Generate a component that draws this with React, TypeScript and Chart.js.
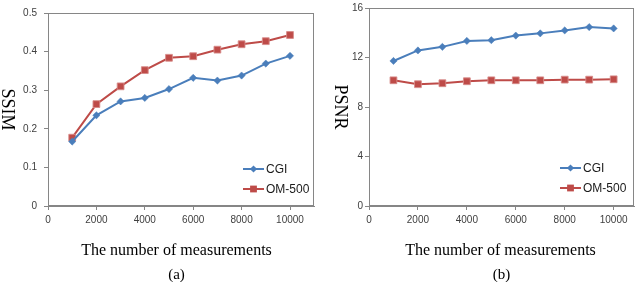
import React, { useEffect, useRef } from 'react';
import { Chart, registerables } from 'chart.js';

Chart.register(...registerables);

// ---- data ----
const measurements = [1000, 2000, 3000, 4000, 5000, 6000, 7000, 8000, 9000, 10000];
const ssimCGI = [0.167, 0.235, 0.271, 0.28, 0.303, 0.332, 0.325, 0.338, 0.369, 0.389];
const ssimOM500 = [0.177, 0.264, 0.31, 0.352, 0.384, 0.388, 0.405, 0.419, 0.427, 0.443];
const psnrCGI = [11.72, 12.57, 12.86, 13.34, 13.4, 13.77, 13.95, 14.19, 14.46, 14.35];
const psnrOM500 = [10.16, 9.84, 9.92, 10.08, 10.16, 10.16, 10.16, 10.21, 10.21, 10.24];
const xTickValues = [0, 2000, 4000, 6000, 8000, 10000];
const ssimTickValues = [0, 0.1, 0.2, 0.3, 0.4, 0.5];
const psnrTickValues = [0, 4, 8, 12, 16];
const seriesNames = ['CGI', 'OM-500'];
const xAxisTitle = 'The number of measurements';

const BLUE = '#4A7EBB';
const RED = '#BE4B48';
const AXIS = '#868686';
const TICK_TEXT = '#404040';

const panelTextPlugin = {
  id: 'panelText',
  beforeDatasetsDraw(chart: any) {
    const { ctx, chartArea: a } = chart;
    ctx.save();
    ctx.strokeStyle = AXIS;
    ctx.lineWidth = 1;
    ctx.strokeRect(Math.round(a.left) + 0.5, Math.round(a.top) + 0.5, Math.round(a.right - a.left) - 1, Math.round(a.bottom - a.top) - 1);
    ctx.restore();
  },
  afterDraw(chart: any, _args: any, opts: any) {
    const { ctx, chartArea: a } = chart;
    ctx.save();
    ctx.fillStyle = '#000';
    // y title rotated clockwise
    ctx.save();
    ctx.translate(opts.yTitleX, (a.top + a.bottom) / 2);
    ctx.rotate(Math.PI / 2);
    ctx.font = '18px "Liberation Serif"';
    ctx.textAlign = 'center';
    ctx.textBaseline = 'middle';
    ctx.fillText(opts.yTitle, 0, 0);
    ctx.restore();
    // x title
    ctx.font = '16px "Liberation Serif"';
    ctx.textAlign = 'center';
    ctx.textBaseline = 'alphabetic';
    ctx.fillText(xAxisTitle, opts.xTitleX, 255);
    // panel label
    ctx.font = '15px "Liberation Serif"';
    ctx.fillText(opts.label, opts.labelX, 279);
    // legend
    chart.data.datasets.forEach((ds: any, i: number) => {
      const y = opts.legendY[i];
      const x0 = opts.legendX;
      const x1 = x0 + 21;
      ctx.strokeStyle = ds.borderColor;
      ctx.lineWidth = 2;
      ctx.beginPath();
      ctx.moveTo(x0, y);
      ctx.lineTo(x1, y);
      ctx.stroke();
      const cx = (x0 + x1) / 2;
      ctx.fillStyle = ds.pointBackgroundColor;
      ctx.beginPath();
      if (ds.pointStyle === 'rectRot') {
        const r = ds.pointRadius;
        ctx.moveTo(cx, y - r);
        ctx.lineTo(cx + r, y);
        ctx.lineTo(cx, y + r);
        ctx.lineTo(cx - r, y);
        ctx.closePath();
      } else {
        const s = ds.pointRadius * Math.SQRT1_2;
        ctx.rect(cx - s, y - s, 2 * s, 2 * s);
      }
      ctx.fill();
      ctx.fillStyle = '#1a1a1a';
      ctx.font = '12px "Liberation Sans"';
      ctx.textAlign = 'left';
      ctx.textBaseline = 'middle';
      ctx.fillText(ds.label, x1 + 2, y + 0.5);
    });
    ctx.restore();
  },
};

type PanelProps = {
  cgi: number[];
  om: number[];
  yTicks: number[];
  yMax: number;
  xMax: number;
  yAxisWidth: number;
  yTickPad: number;
  yTitle: string;
  label: string;
  yTitleX: number;
  xTitleX: number;
  labelX: number;
  legendX: number;
  legendY: number[];
};

function Panel(p: PanelProps) {
  const ref = useRef<HTMLCanvasElement | null>(null);
  useEffect(() => {
    if (!ref.current) return;
    const tickFont = { family: 'Liberation Sans', size: 10 };
    const chart = new Chart(ref.current, {
      type: 'line',
      data: {
        datasets: [
          {
            label: seriesNames[0],
            data: measurements.map((x, i) => ({ x, y: p.cgi[i] })),
            borderColor: BLUE,
            backgroundColor: BLUE,
            pointBackgroundColor: BLUE,
            pointBorderColor: BLUE,
            pointStyle: 'rectRot',
            pointRadius: 3.6,
            pointBorderWidth: 0.5,
            borderWidth: 2,
          } as any,
          {
            label: seriesNames[1],
            data: measurements.map((x, i) => ({ x, y: p.om[i] })),
            borderColor: RED,
            backgroundColor: RED,
            pointBackgroundColor: RED,
            pointBorderColor: 'rgba(215,140,138,0.9)',
            pointStyle: 'rect',
            pointRadius: 4.8,
            pointBorderWidth: 1,
            borderWidth: 2,
          } as any,
        ],
      },
      options: {
        animation: false,
        responsive: false,
        maintainAspectRatio: false,
        layout: { padding: { top: 5, right: 5, left: 0, bottom: 0 } },
        plugins: {
          legend: { display: false },
          tooltip: { enabled: false },
          title: { display: false },
          panelText: {
            yTitle: p.yTitle,
            label: p.label,
            yTitleX: p.yTitleX,
            xTitleX: p.xTitleX,
            labelX: p.labelX,
            legendX: p.legendX,
            legendY: p.legendY,
          },
        } as any,
        scales: {
          x: {
            type: 'linear',
            min: 0,
            max: p.xMax,
            afterBuildTicks: (s: any) => {
              s.ticks = xTickValues.map((v) => ({ value: v }));
            },
            afterFit: (s: any) => {
              s.height = 76;
            },
            grid: { display: true, drawOnChartArea: false, drawTicks: true, tickLength: 4, color: AXIS },
            border: { display: true, color: AXIS, width: 1 },
            ticks: {
              padding: 4,
              color: TICK_TEXT,
              font: tickFont,
              maxRotation: 0,
              autoSkip: false,
              callback: (v: any) => String(v),
            },
          },
          y: {
            type: 'linear',
            min: 0,
            max: p.yMax,
            afterBuildTicks: (s: any) => {
              s.ticks = p.yTicks.map((v) => ({ value: v }));
            },
            afterFit: (s: any) => {
              s.width = p.yAxisWidth;
            },
            grid: { display: true, drawOnChartArea: false, drawTicks: true, tickLength: 4, color: AXIS },
            border: { display: true, color: AXIS, width: 1 },
            ticks: {
              padding: p.yTickPad,
              color: TICK_TEXT,
              font: tickFont,
              autoSkip: false,
              callback: (v: any) => String(v),
            },
          },
        } as any,
      },
      plugins: [panelTextPlugin],
    });
    return () => chart.destroy();
  }, []);
  return <canvas ref={ref} width={320} height={282} style={{ display: 'block', width: 320, height: 282 }} />;
}

export default function App() {
  return (
    <div style={{ position: 'absolute', left: 0, top: 0, width: 640, height: 282, display: 'flex', background: '#fff' }}>
      <Panel
        cgi={ssimCGI}
        om={ssimOM500}
        yTicks={ssimTickValues}
        yMax={0.5}
        xMax={11000}
        yAxisWidth={48}
        yTickPad={7}
        yTitle="SSIM"
        label="(a)"
        yTitleX={7}
        xTitleX={176.5}
        labelX={176.5}
        legendX={243}
        legendY={[169, 189]}
      />
      <Panel
        cgi={psnrCGI}
        om={psnrOM500}
        yTicks={psnrTickValues}
        yMax={16}
        xMax={10840}
        yAxisWidth={49}
        yTickPad={2}
        yTitle="PSNR"
        label="(b)"
        yTitleX={20}
        xTitleX={180.5}
        labelX={181.5}
        legendX={240}
        legendY={[168, 188]}
      />
    </div>
  );
}
